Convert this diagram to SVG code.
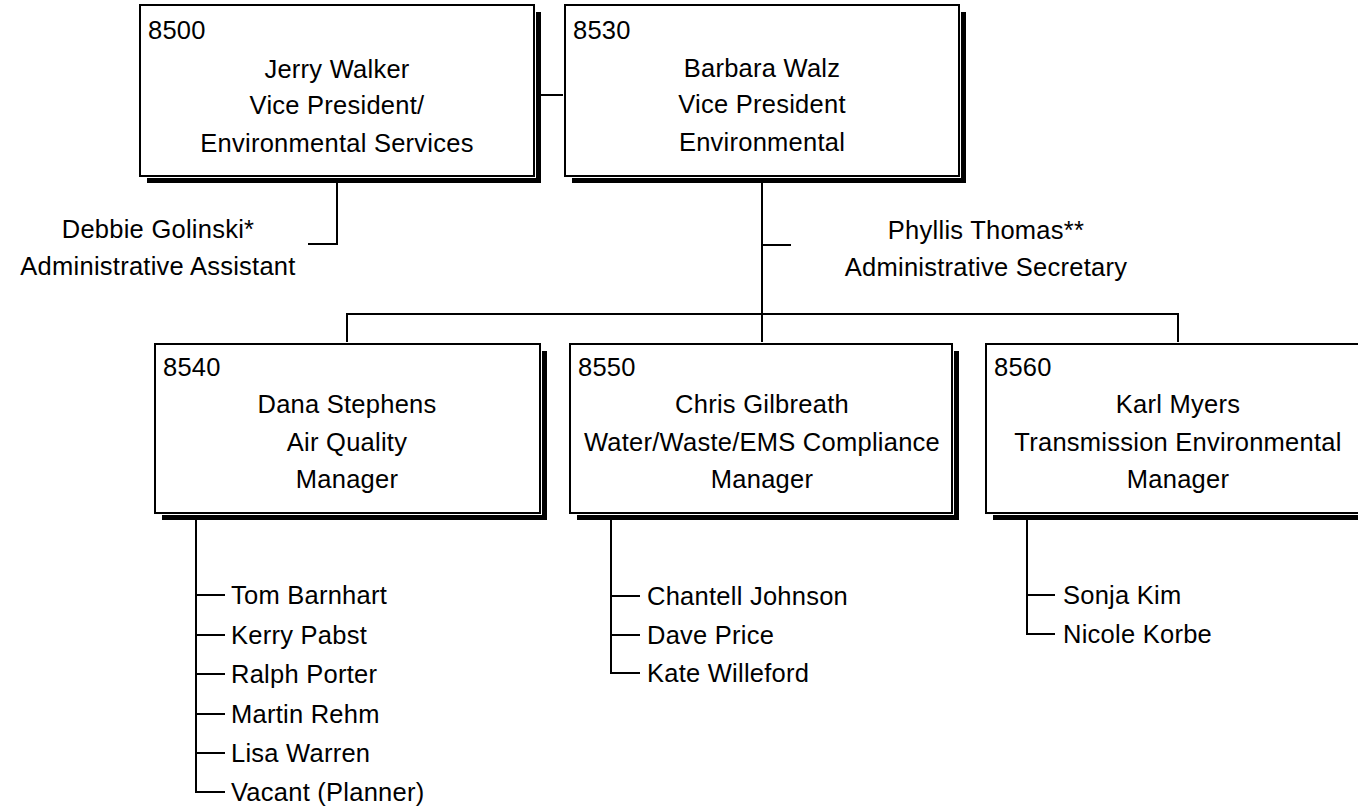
<svg xmlns="http://www.w3.org/2000/svg" width="1358" height="812" viewBox="0 0 1358 812">
<style>
text{font-family:"Liberation Sans",Arial,sans-serif;font-size:25.5px;letter-spacing:0.25px;fill:#000}
.c{text-anchor:middle}
.sh{fill:#000}
.gap{fill:#fff}
.box{fill:#fff;stroke:#000;stroke-width:2}
.ln{fill:none;stroke:#000;stroke-width:2}
</style>
<rect width="1358" height="812" fill="#fff"/>
<g id="connectors">
<path class="ln" d="M534,95H565"/>
<path class="ln" d="M337,176V244H308"/>
<path class="ln" d="M762,176V344M762,245H791"/>
<path class="ln" d="M347,344V314H1178V344"/>
<path class="ln" d="M196,513V792H225M196,595H225M196,635H225M196,674H225M196,714H225M196,753H225"/>
<path class="ln" d="M611,513V673H640M611,596H640M611,635H640"/>
<path class="ln" d="M1027,513V634H1055M1027,595H1055"/>
</g>
<g id="n8500">
<rect class="sh" x="147" y="12" width="394" height="171"/>
<rect class="gap" x="138" y="3" width="398" height="175"/>
<rect class="box" x="140" y="5" width="394" height="171"/>
<text x="148" y="39">8500</text>
<text class="c" x="337" y="78">Jerry Walker</text>
<text class="c" x="337" y="114">Vice President/</text>
<text class="c" x="337" y="152">Environmental Services</text>
</g>
<g id="n8530">
<rect class="sh" x="572" y="12" width="394" height="171"/>
<rect class="gap" x="563" y="3" width="398" height="175"/>
<rect class="box" x="565" y="5" width="394" height="171"/>
<text x="573" y="39">8530</text>
<text class="c" x="762" y="77">Barbara Walz</text>
<text class="c" x="762" y="113">Vice President</text>
<text class="c" x="762" y="151">Environmental</text>
</g>
<g id="asst-debbie">
<text class="c" x="158" y="238">Debbie Golinski*</text>
<text class="c" x="158" y="275">Administrative Assistant</text>
</g>
<g id="asst-phyllis">
<text class="c" x="986" y="239">Phyllis Thomas**</text>
<text class="c" x="986" y="276">Administrative Secretary</text>
</g>
<g id="n8540">
<rect class="sh" x="162" y="351" width="385" height="169"/>
<rect class="gap" x="153" y="342" width="389" height="173"/>
<rect class="box" x="155" y="344" width="385" height="169"/>
<text x="163" y="376">8540</text>
<text class="c" x="347" y="413">Dana Stephens</text>
<text class="c" x="347" y="451">Air Quality</text>
<text class="c" x="347" y="488">Manager</text>
</g>
<g id="n8550">
<rect class="sh" x="577" y="351" width="382" height="169"/>
<rect class="gap" x="568" y="342" width="386" height="173"/>
<rect class="box" x="570" y="344" width="382" height="169"/>
<text x="578" y="376">8550</text>
<text class="c" x="762" y="413">Chris Gilbreath</text>
<text class="c" x="762" y="451">Water/Waste/EMS Compliance</text>
<text class="c" x="762" y="488">Manager</text>
</g>
<g id="n8560">
<rect class="sh" x="993" y="351" width="385" height="169"/>
<rect class="gap" x="984" y="342" width="389" height="173"/>
<rect class="box" x="986" y="344" width="385" height="169"/>
<text x="994" y="376">8560</text>
<text class="c" x="1178" y="413">Karl Myers</text>
<text class="c" x="1178" y="451">Transmission Environmental</text>
<text class="c" x="1178" y="488">Manager</text>
</g>
<g id="staff-8540">
<text x="231" y="604">Tom Barnhart</text>
<text x="231" y="644">Kerry Pabst</text>
<text x="231" y="683">Ralph Porter</text>
<text x="231" y="723">Martin Rehm</text>
<text x="231" y="762">Lisa Warren</text>
<text x="231" y="801">Vacant (Planner)</text>
</g>
<g id="staff-8550">
<text x="647" y="605">Chantell Johnson</text>
<text x="647" y="644">Dave Price</text>
<text x="647" y="682">Kate Willeford</text>
</g>
<g id="staff-8560">
<text x="1063" y="604">Sonja Kim</text>
<text x="1063" y="643">Nicole Korbe</text>
</g>
</svg>
